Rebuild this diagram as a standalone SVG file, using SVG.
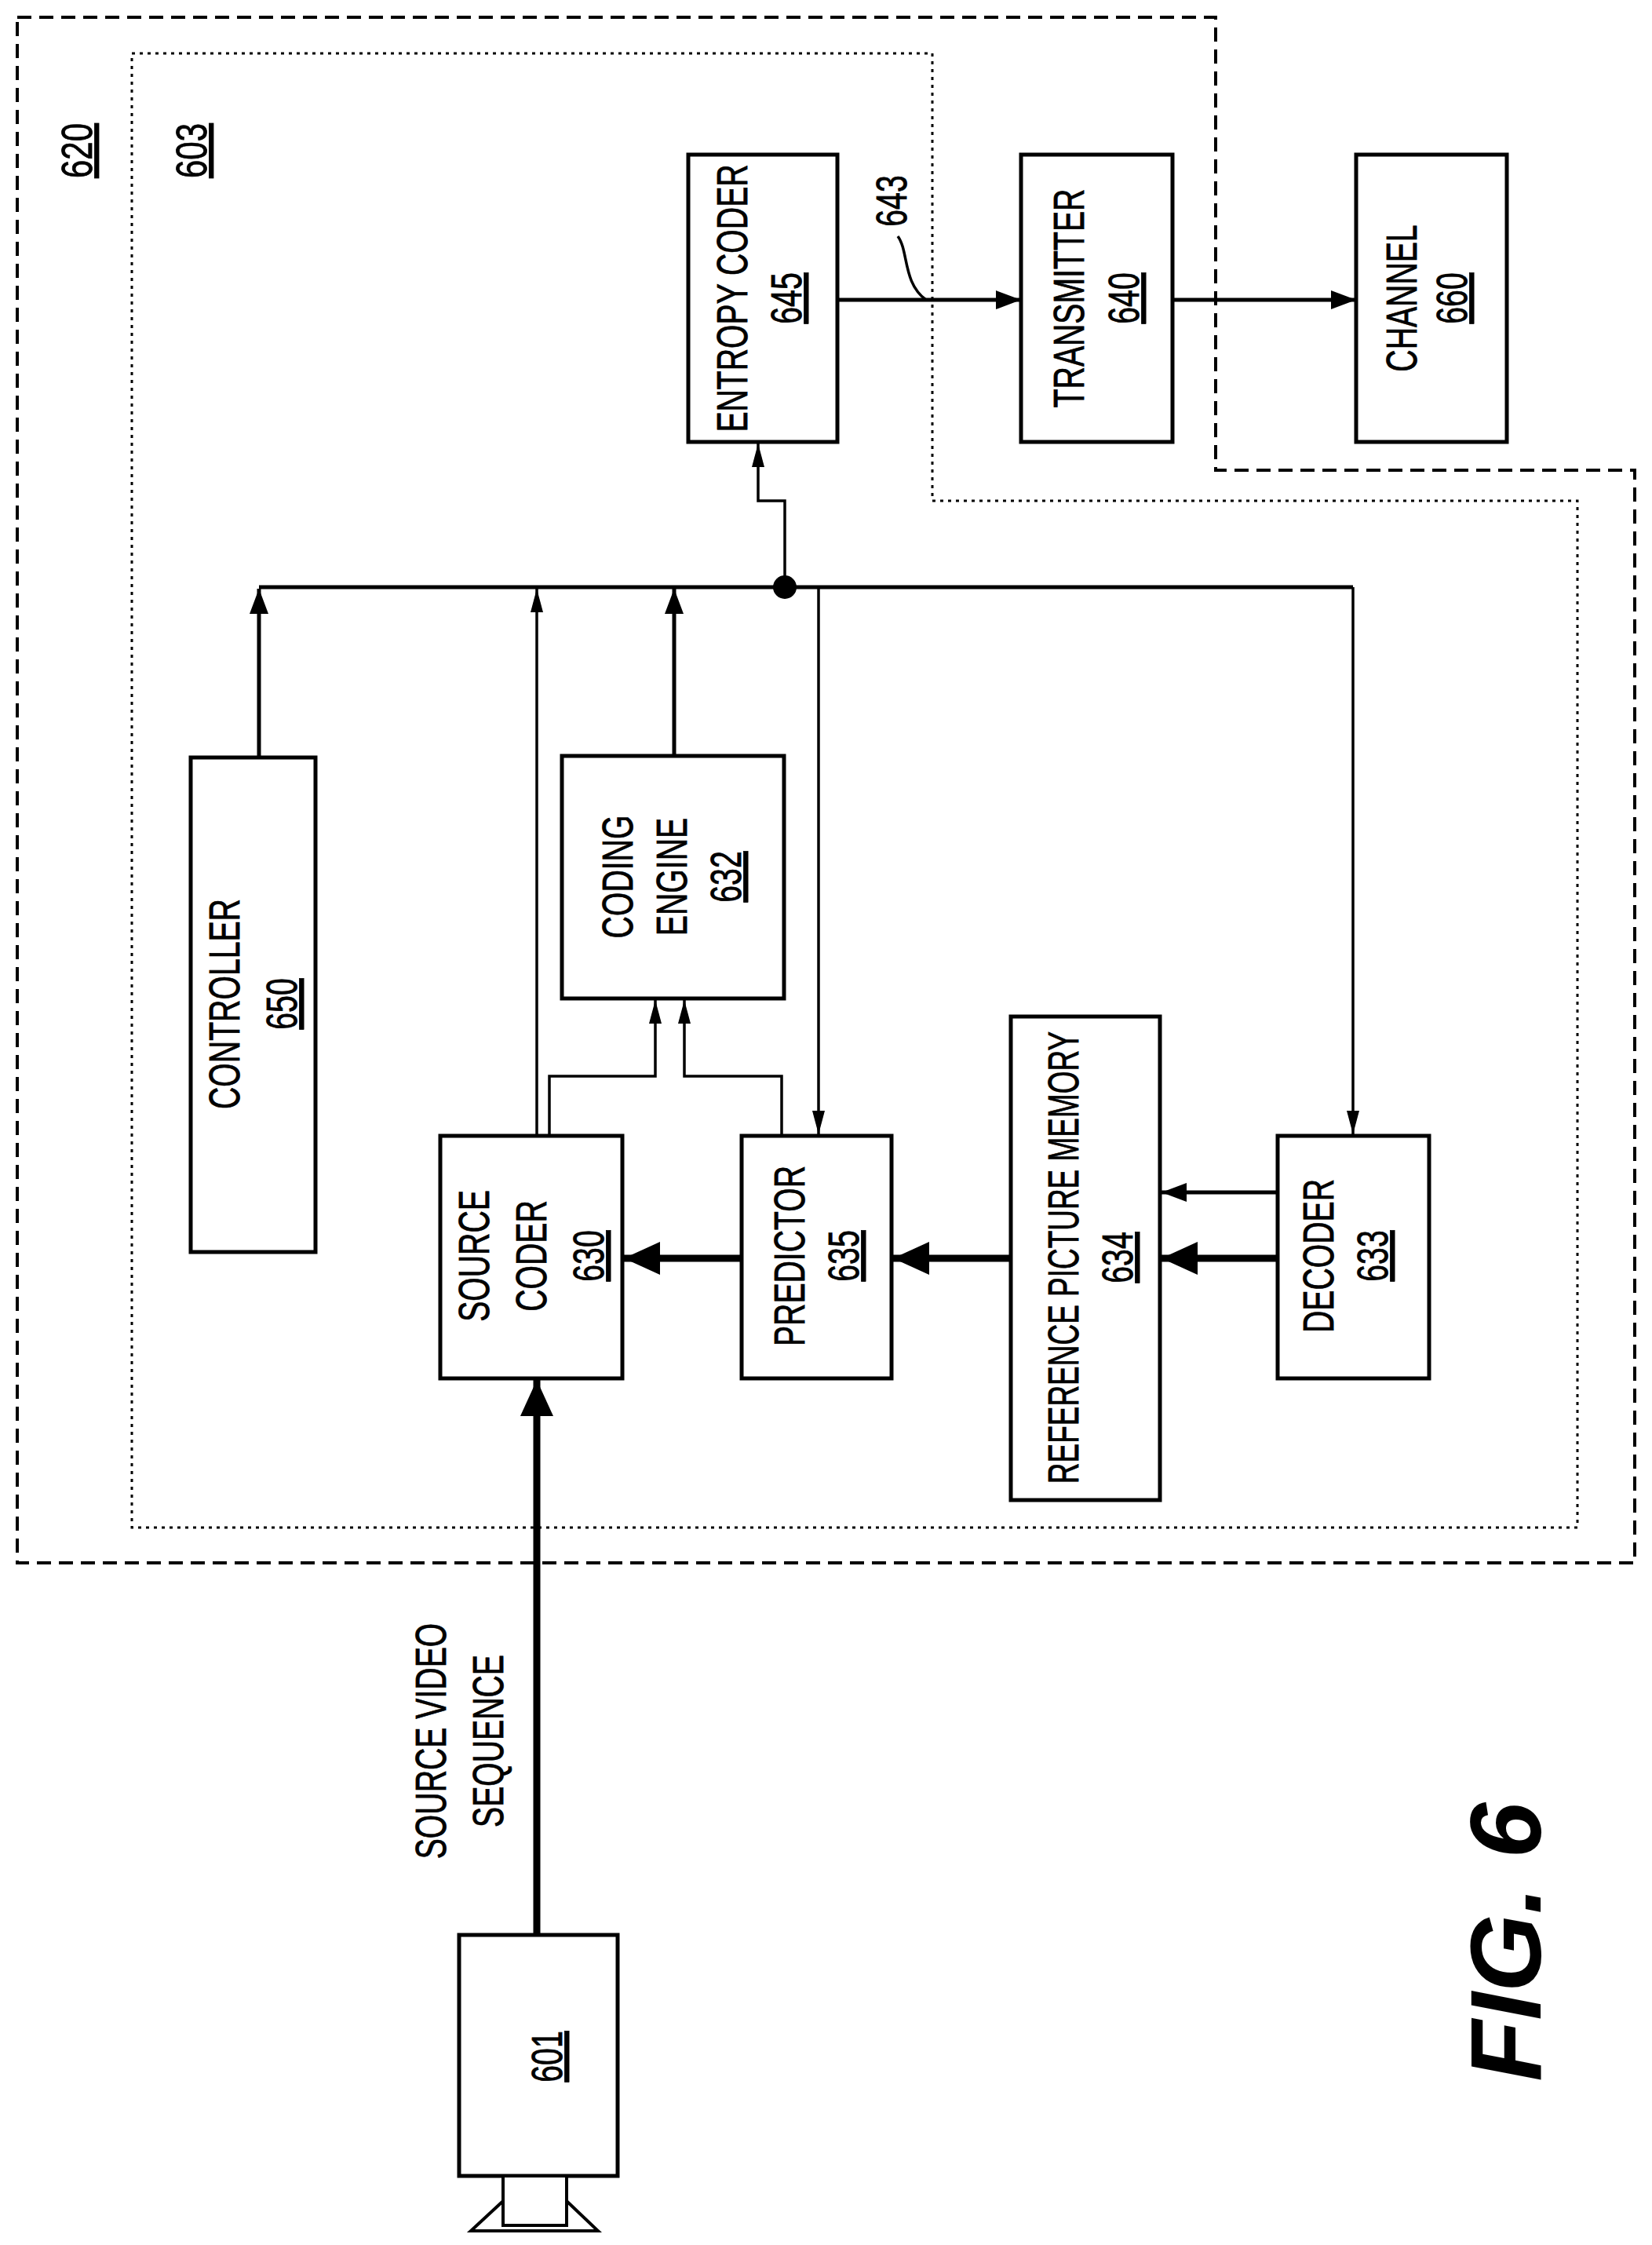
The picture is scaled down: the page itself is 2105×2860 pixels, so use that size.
<svg xmlns="http://www.w3.org/2000/svg" width="2105" height="2860" viewBox="0 0 2105 2860">
<style>
.box{fill:#fff;stroke:#000;stroke-width:5}
.t{font-family:"Liberation Sans",Arial,sans-serif;font-size:56px;text-anchor:middle;fill:#000;stroke:#000;stroke-width:0.8}
.u{text-decoration:underline}
.thin{stroke:#000;stroke-width:3.5;fill:none}
.med{stroke:#000;stroke-width:5;fill:none}
.thick{stroke:#000;stroke-width:9;fill:none}
</style>
<defs>
<marker id="aT" markerUnits="userSpaceOnUse" markerWidth="32" markerHeight="16" refX="30" refY="8" orient="auto"><path d="M0,0L30,8L0,16z"/></marker>
<marker id="aM" markerUnits="userSpaceOnUse" markerWidth="34" markerHeight="24" refX="32" refY="12" orient="auto"><path d="M0,0L32,12L0,24z"/></marker>
<marker id="aB" markerUnits="userSpaceOnUse" markerWidth="48" markerHeight="42" refX="46" refY="21" orient="auto"><path d="M0,0L46,21L0,42z"/></marker>
</defs>
<g id="b620"><path d="M22,22H1549V599H2083V1991H22Z" fill="none" stroke="#000" stroke-width="4" stroke-dasharray="18,10"/>
<text class="t u" transform="translate(117,192) rotate(-90) scale(0.75,1)">620</text></g>
<g id="b603"><path d="M168,68H1188V638H2010V1946H168Z" fill="none" stroke="#000" stroke-width="3" stroke-dasharray="4,6"/>
<text class="t u" transform="translate(263,192) rotate(-90) scale(0.75,1)">603</text></g>
<g id="connectors">
<line class="med" x1="1067" y1="382" x2="1301" y2="382" marker-end="url(#aM)"/>
<line class="med" x1="1494" y1="382" x2="1728" y2="382" marker-end="url(#aM)"/>
<path class="thin" d="M1144,301C1158,320 1150,360 1180,382"/>
<path class="med" d="M330,748H1724"/>
<circle cx="1000" cy="748" r="15"/>
<line class="med" x1="330" y1="965" x2="330" y2="750" marker-end="url(#aM)"/>
<line class="thin" x1="684" y1="1447" x2="684" y2="750" marker-end="url(#aT)"/>
<line class="med" x1="859" y1="963" x2="859" y2="750" marker-end="url(#aM)"/>
<path class="thin" d="M1000,748V638H966V565" marker-end="url(#aT)"/>
<line class="thin" x1="1043" y1="748" x2="1043" y2="1445" marker-end="url(#aT)"/>
<path class="thin" d="M1724,748V1445" marker-end="url(#aT)"/>
<path class="thin" d="M700,1447V1371H835V1274" marker-end="url(#aT)"/>
<path class="thin" d="M996,1447V1371H872V1274" marker-end="url(#aT)"/>
<line class="thick" x1="945" y1="1603" x2="795" y2="1603" marker-end="url(#aB)"/>
<line class="thick" x1="1288" y1="1603" x2="1138" y2="1603" marker-end="url(#aB)"/>
<line class="thick" x1="1628" y1="1603" x2="1480" y2="1603" marker-end="url(#aB)"/>
<line class="med" x1="1628" y1="1519" x2="1480" y2="1519" marker-end="url(#aM)"/>
<line class="thick" x1="684" y1="2465" x2="684" y2="1758" marker-end="url(#aB)"/>
</g>
<g id="n645"><rect class="box" x="877" y="197" width="190" height="366"/>
<text class="t" transform="translate(952,380) rotate(-90) scale(0.7,1)">ENTROPY CODER</text>
<text class="t u" transform="translate(1021,380) rotate(-90) scale(0.7,1)">645</text></g>
<g id="n643"><text class="t" transform="translate(1155,256) rotate(-90) scale(0.7,1)">643</text></g>
<g id="n640"><rect class="box" x="1301" y="197" width="193" height="366"/>
<text class="t" transform="translate(1381,380) rotate(-90) scale(0.7,1)">TRANSMITTER</text>
<text class="t u" transform="translate(1451,380) rotate(-90) scale(0.7,1)">640</text></g>
<g id="n660"><rect class="box" x="1728" y="197" width="192" height="366"/>
<text class="t" transform="translate(1805,380) rotate(-90) scale(0.7,1)">CHANNEL</text>
<text class="t u" transform="translate(1869,380) rotate(-90) scale(0.7,1)">660</text></g>
<g id="n650"><rect class="box" x="243" y="965" width="159" height="630"/>
<text class="t" transform="translate(305,1279) rotate(-90) scale(0.7,1)">CONTROLLER</text>
<text class="t u" transform="translate(378,1279) rotate(-90) scale(0.7,1)">650</text></g>
<g id="n632"><rect class="box" x="716" y="963" width="283" height="309"/>
<text class="t" transform="translate(806,1117) rotate(-90) scale(0.7,1)">CODING</text>
<text class="t" transform="translate(875,1117) rotate(-90) scale(0.7,1)">ENGINE</text>
<text class="t u" transform="translate(944,1117) rotate(-90) scale(0.7,1)">632</text></g>
<g id="n630"><rect class="box" x="561" y="1447" width="232" height="309"/>
<text class="t" transform="translate(623,1600) rotate(-90) scale(0.7,1)">SOURCE</text>
<text class="t" transform="translate(696,1600) rotate(-90) scale(0.7,1)">CODER</text>
<text class="t u" transform="translate(769,1600) rotate(-90) scale(0.7,1)">630</text></g>
<g id="n635"><rect class="box" x="945" y="1447" width="191" height="309"/>
<text class="t" transform="translate(1025,1600) rotate(-90) scale(0.7,1)">PREDICTOR</text>
<text class="t u" transform="translate(1094,1600) rotate(-90) scale(0.7,1)">635</text></g>
<g id="n634"><rect class="box" x="1288" y="1295" width="190" height="616"/>
<text class="t" transform="translate(1374,1602) rotate(-90) scale(0.66,1)">REFERENCE PICTURE MEMORY</text>
<text class="t u" transform="translate(1443,1602) rotate(-90) scale(0.7,1)">634</text></g>
<g id="n633"><rect class="box" x="1628" y="1447" width="193" height="309"/>
<text class="t" transform="translate(1699,1600) rotate(-90) scale(0.7,1)">DECODER</text>
<text class="t u" transform="translate(1768,1600) rotate(-90) scale(0.7,1)">633</text></g>
<g id="n601"><rect class="box" x="585" y="2465" width="202" height="307"/>
<rect x="641" y="2772" width="81" height="63" fill="#fff" stroke="#000" stroke-width="4"/>
<path d="M641,2804L600,2842H762L722,2804" fill="none" stroke="#000" stroke-width="4"/>
<text class="t u" transform="translate(716,2620) rotate(-90) scale(0.7,1)">601</text></g>
<g id="lbl"><text class="t" transform="translate(568,2218) rotate(-90) scale(0.7,1)">SOURCE VIDEO</text>
<text class="t" transform="translate(641,2218) rotate(-90) scale(0.7,1)">SEQUENCE</text>
<text transform="translate(1963,2474) rotate(-90)" font-family="Liberation Sans,Arial,sans-serif" font-size="128" font-weight="bold" font-style="italic" text-anchor="middle">FIG. 6</text></g>
</svg>
